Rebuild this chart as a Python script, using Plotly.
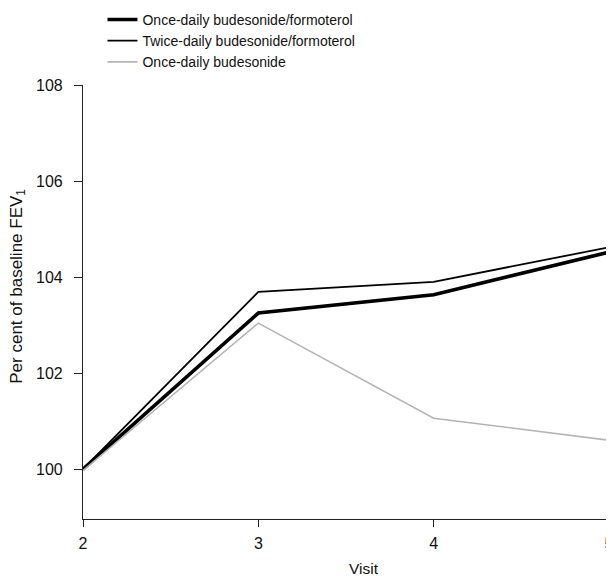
import plotly.graph_objects as go

visits = [2, 3, 4, 5]
once_bf = [100.0, 103.25, 103.63, 104.52]
twice_bf = [100.0, 103.69, 103.90, 104.62]
once_bud = [99.97, 103.04, 101.06, 100.60]
names = ["Once-daily budesonide/formoterol",
         "Twice-daily budesonide/formoterol",
         "Once-daily budesonide"]
y_ticks = [100, 102, 104, 106, 108]

fig = go.Figure()
fig.add_trace(go.Scatter(x=visits, y=once_bf, mode="lines", name=names[0],
                         line=dict(color="black", width=3.6)))
fig.add_trace(go.Scatter(x=visits, y=twice_bf, mode="lines", name=names[1],
                         line=dict(color="black", width=1.8)))
fig.add_trace(go.Scatter(x=visits, y=once_bud, mode="lines", name=names[2],
                         line=dict(color="#b4b4b4", width=1.6)))

fam = "Liberation Sans, Arial, sans-serif"
fig.update_layout(
    width=614, height=576,
    margin=dict(l=75, r=13, t=77, b=65, autoexpand=False),
    paper_bgcolor="white", plot_bgcolor="white",
    font=dict(family=fam, size=14, color="#111"),
    showlegend=True,
    legend=dict(x=0.037, y=1.187, xanchor="left", yanchor="top",
                bgcolor="rgba(0,0,0,0)", font=dict(family=fam, size=14, color="#111"),
                tracegroupgap=0, itemwidth=30),
    xaxis=dict(range=[2, 5], tickvals=visits, showline=True, linecolor="#222",
               linewidth=1.2, ticks="outside", ticklen=7, tickcolor="#222",
               tickfont=dict(size=16), ticklabelstandoff=3,
               showgrid=False, zeroline=False, fixedrange=True),
    yaxis=dict(range=[98.96, 108], tickvals=y_ticks, showline=True, linecolor="#222",
               linewidth=1.2, ticks="outside", ticklen=8, tickcolor="#222",
               tickfont=dict(size=16), ticklabelstandoff=8,
               showgrid=False, zeroline=False, fixedrange=True),
    annotations=[
        dict(text="Visit", xref="x", yref="paper", x=3.6, y=-0.115,
             xanchor="center", yanchor="middle", showarrow=False,
             font=dict(family=fam, size=15.5, color="#111")),
        dict(text="Per cent of baseline FEV<sub>1</sub>", xref="paper", yref="paper",
             x=-0.124, y=0.537, xanchor="center", yanchor="middle", textangle=-90,
             showarrow=False, font=dict(family=fam, size=17, color="#111")),
    ],
)
fig.write_html("out.html")
